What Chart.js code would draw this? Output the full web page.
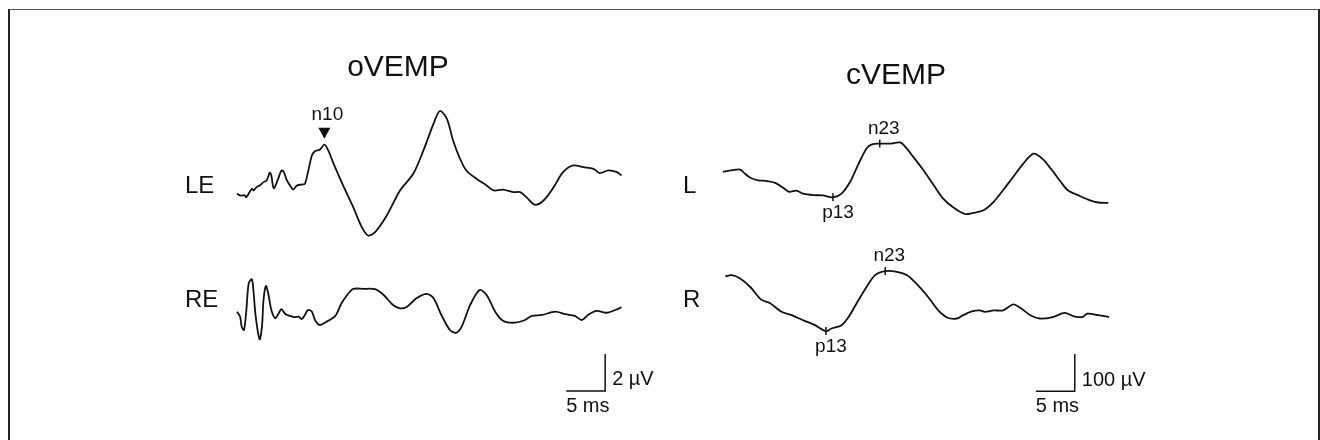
<!DOCTYPE html>
<html>
<head>
<meta charset="utf-8">
<script src="https://cdn.jsdelivr.net/npm/chart.js@4.4.1/dist/chart.umd.min.js"></script>
<style>
  html, body { margin: 0; padding: 0; background: #fff; }
  #page { position: relative; width: 1320px; height: 440px; overflow: hidden; }
  #frame { position: absolute; left: 8px; top: 9px; width: 1308px; height: 470px;
           border: 2px solid #222; border-top: 1px solid #555; }
  canvas { position: absolute; top: 0; }
  #oVemp { left: 0; }
  #cVemp { left: 680px; }
</style>
</head>
<body>
<div id="page">
  <div id="frame"></div>
  <canvas id="oVemp" width="680" height="440"></canvas>
  <canvas id="cVemp" width="640" height="440"></canvas>
</div>
<script>
const FONT = "'Liberation Sans', Arial, sans-serif";
const INK = '#111';

// --- oVEMP, time in ms, amplitude in µV ---
const leTime = [0, 0.4, 1.0, 1.2, 1.9, 2.1, 2.5, 2.9, 3.4, 3.8, 4.2, 4.4, 4.7, 5.2, 5.7, 6.0, 6.4, 6.8, 7.2, 7.7,
  8.3, 8.7, 9.1, 9.6, 10.0, 10.6, 11.2, 11.7, 12.3, 13.6, 14.9, 16.0, 16.8, 17.7, 19.2, 20.9, 22.6, 23.9, 25.2, 26.0,
  26.9, 27.7, 28.6, 29.4, 30.7, 32.0, 32.9, 34.1, 35.4, 36.3, 37.1, 38.2, 39.3, 40.6, 41.8, 43.1, 44.4, 45.7, 46.5,
  47.6, 48.7, 49.3];
const leAmp = [0.1, 0, 0, -0.09, 0.36, 0.27, 0.45, 0.54, 0.72, 0.81, 1.23, 1.08, 0.39, 0.81, 1.35, 1.26, 0.81, 0.54, 0.32, 0.54,
  0.59, 0.63, 1.26, 2.16, 2.39, 2.47, 2.74, 2.43, 1.80, 0.54, -0.63, -1.71, -2.16, -1.98, -1.08, 0.27, 1.17, 2.43, 3.88, 4.56,
  4.15, 2.97, 1.98, 1.35, 0.90, 0.54, 0.27, 0.31, 0.18, 0.18, -0.09, -0.50, -0.27, 0.45, 1.26, 1.62, 1.53, 1.44, 1.21,
  1.35, 1.26, 1.08];

const reTime = [0, 0.4, 0.6, 0.9, 1.2, 1.5, 1.9, 2.1, 2.4, 2.9, 3.2, 3.4, 3.7, 4.0, 4.4, 4.9, 5.3, 5.7, 6.2, 6.8,
  7.4, 7.9, 8.3, 8.7, 9.1, 9.6, 10.0, 10.6, 11.5, 12.6, 13.4, 14.3, 14.9, 16.2, 17.7, 18.8, 20.0, 20.9, 21.8, 23.0,
  24.3, 25.2, 26.2, 27.3, 28.1, 28.8, 29.9, 31.1, 32.0, 33.1, 34.1, 35.4, 36.7, 37.8, 39.1, 40.8, 42.1, 43.3, 44.2,
  45.0, 46.1, 47.4, 48.5, 49.3];
const reAmp = [0.18, -0.09, -0.63, -0.81, 0.27, 1.71, 1.93, 1.35, -0.09, -1.31, -0.63, 0.81, 1.57, 1.17, 0.27, -0.18, 0.05, 0.32, 0.05, -0.05,
  -0.12, -0.09, -0.22, 0, 0.27, 0.18, -0.27, -0.54, -0.36, -0.05, 0.63, 1.17, 1.41, 1.41, 1.39, 1.08, 0.54, 0.36, 0.45, 0.90,
  1.14, 0.90, 0, -0.81, -0.96, -0.63, 0.54, 1.35, 1.08, 0.18, -0.31, -0.42, -0.31, -0.05, 0, 0.18, 0.04, -0.05, -0.27,
  0, 0.22, 0.12, 0.27, 0.42];

// --- cVEMP, time in ms, amplitude in µV ---
const lTime = [0, 1.1, 2.2, 2.8, 3.5, 4.5, 5.6, 6.7, 7.7, 8.5, 9.4, 10.3, 11.6, 12.8, 14.1, 15.2, 16.3, 17.3, 18.4, 19.1,
  20.1, 21.4, 22.7, 23.3, 24.4, 25.7, 27.0, 28.2, 29.5, 31.0, 32.1, 33.4, 34.7, 35.9, 37.2, 38.5, 39.8, 40.9, 42.0,
  43.3, 44.2, 45.5, 46.8, 48.1, 49.4];
const lAmp = [1, 5, 7, -4, -15, -22, -24, -29, -42, -53, -50, -58, -62, -63, -68, -58, -26, 19, 64, 75,
  77, 77, 80, 70, 41, 5, -35, -71, -95, -113, -110, -103, -80, -49, -13, 23, 50, 37, 10,
  -26, -49, -62, -74, -82, -83];

const rTime = [0.3, 1.1, 2.2, 3.5, 4.9, 6.0, 7.5, 8.8, 10.3, 11.8, 13.2, 13.9, 15.2, 16.1, 17.1, 18.4, 19.5, 20.8, 22.3, 23.6,
  24.8, 26.3, 27.6, 28.8, 30.0, 30.8, 31.9, 32.9, 33.6, 34.7, 35.9, 37.2, 38.1, 39.4, 40.6, 42.3, 43.8, 45.0, 46.1,
  46.7, 48.1, 49.5];
const rAmp = [0, 3, -6, -29, -63, -72, -96, -105, -119, -132, -148, -141, -132, -110, -74, -29, 3, 14, 12, 3,
  -20, -56, -92, -112, -114, -105, -95, -92, -96, -92, -92, -76, -85, -105, -114, -110, -99, -108, -110,
  -101, -105, -110];

// peak latencies (ms) that get a label
const oPeaks = [{ name: 'n10', t: 11.2 }];
const lPeaks = [{ name: 'p13', t: 14.1 }, { name: 'n23', t: 20.1 }];
const rPeaks = [{ name: 'p13', t: 13.2 }, { name: 'n23', t: 20.8 }];

function pts(times, amps) {
  return times.map((t, i) => ({ x: t, y: amps[i] }));
}

function peakMarks(peaks, times, amps, axis, kind) {
  return peaks.map(p => ({
    name: p.name, t: p.t, v: amps[times.indexOf(p.t)], axis,
    kind: kind || (p.name[0] === 'p' ? 'below' : 'above')
  }));
}

const vempPlugin = {
  id: 'vemp',
  afterDatasetsDraw(chart, args, opts) {
    const ctx = chart.ctx;
    const xs = chart.scales.x;
    ctx.save();
    ctx.fillStyle = INK;
    ctx.strokeStyle = INK;
    ctx.textBaseline = 'alphabetic';

    // panel title
    ctx.font = '30px ' + FONT;
    ctx.textAlign = 'center';
    ctx.fillText(opts.title.text, opts.title.x, opts.title.y);

    // trace names
    ctx.font = '24px ' + FONT;
    ctx.textAlign = 'left';
    opts.rows.forEach(r => ctx.fillText(r.text, r.x, r.y));

    // peak labels
    ctx.font = '19px ' + FONT;
    ctx.textAlign = 'center';
    opts.peaks.forEach(p => {
      const px = xs.getPixelForValue(p.t);
      const py = chart.scales[p.axis].getPixelForValue(p.v);
      if (p.kind === 'arrow') {
        ctx.beginPath();
        ctx.moveTo(px - 6, py - 17);
        ctx.lineTo(px + 6, py - 17);
        ctx.lineTo(px, py - 6);
        ctx.closePath();
        ctx.fill();
        ctx.fillText(p.name, px + 3, py - 25);
      } else {
        ctx.lineWidth = 1.5;
        ctx.beginPath();
        ctx.moveTo(px, py - 4);
        ctx.lineTo(px, py + 4);
        ctx.stroke();
        if (p.kind === 'above') ctx.fillText(p.name, px + 4, py - 10);
        else ctx.fillText(p.name, px + 5, py + 21);
      }
    });

    // calibration bar
    const b = opts.bar;
    const ys = chart.scales[b.axis];
    const cx = xs.getPixelForValue(b.t);
    const cy = ys.getPixelForValue(b.v);
    const lx = xs.getPixelForValue(b.t - b.dt);
    const ty = ys.getPixelForValue(b.v + b.dv);
    ctx.lineWidth = 1.5;
    ctx.beginPath();
    ctx.moveTo(lx, cy);
    ctx.lineTo(cx, cy);
    ctx.lineTo(cx, ty);
    ctx.stroke();
    ctx.font = '20px ' + FONT;
    ctx.textAlign = 'left';
    ctx.fillText(b.dv + ' \u00b5V', cx + 7, (cy + ty) / 2 + 13);
    ctx.fillText(b.dt + ' ms', lx, cy + 21);
    ctx.restore();
  }
};

function makeChart(id, sets, yScales, padLeft, padRight, marks) {
  return new Chart(document.getElementById(id), {
    type: 'line',
    data: {
      datasets: sets.map(s => ({
        data: s.data,
        yAxisID: s.axis,
        borderColor: INK,
        borderWidth: 1.8,
        pointRadius: 0,
        tension: 0.3,
        fill: false,
        clip: false
      }))
    },
    options: {
      responsive: false,
      animation: false,
      layout: { padding: { left: padLeft, right: padRight, top: 88, bottom: 37 } },
      plugins: { legend: { display: false }, tooltip: { enabled: false }, vemp: marks },
      scales: Object.assign({ x: { type: 'linear', min: 0, max: 50, display: false } }, yScales)
    },
    plugins: [vempPlugin]
  });
}

makeChart('oVemp',
  [{ data: pts(leTime, leAmp), axis: 'yLE' }, { data: pts(reTime, reAmp), axis: 'yRE' }],
  {
    yLE: { type: 'linear', min: -11.2, max: 5.8, display: false },
    yRE: { type: 'linear', min: -4.75, max: 12.25, display: false }
  },
  237, 53,
  {
    title: { text: 'oVEMP', x: 398, y: 76 },
    rows: [{ text: 'LE', x: 185, y: 193 }, { text: 'RE', x: 185, y: 307 }],
    peaks: peakMarks(oPeaks, leTime, leAmp, 'yLE', 'arrow'),
    bar: { axis: 'yRE', t: 47.2, v: -4.1, dt: 5, dv: 2 }
  });

makeChart('cVemp',
  [{ data: pts(lTime, lAmp), axis: 'yL' }, { data: pts(rTime, rAmp), axis: 'yR' }],
  {
    yL: { type: 'linear', min: -623, max: 227, display: false },
    yR: { type: 'linear', min: -342, max: 508, display: false }
  },
  43, 207,
  {
    title: { text: 'cVEMP', x: 216, y: 84 },
    rows: [{ text: 'L', x: 3, y: 193 }, { text: 'R', x: 3, y: 307 }],
    peaks: peakMarks(lPeaks, lTime, lAmp, 'yL').concat(peakMarks(rPeaks, rTime, rAmp, 'yR')),
    bar: { axis: 'yR', t: 45.1, v: -310, dt: 5, dv: 100 }
  });
</script>
</body>
</html>
